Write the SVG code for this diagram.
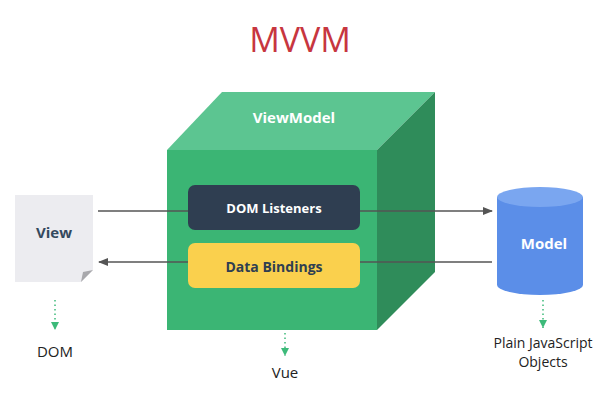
<svg xmlns="http://www.w3.org/2000/svg" width="600" height="400" viewBox="0 0 600 400">
<defs>
<style>
text{font-family:"Open Sans","Noto Sans",sans-serif;text-anchor:middle}
.lbl{fill:#222}
.b{font-weight:bold}
.ln{stroke:#555;stroke-width:1.5;fill:none}
.dot{stroke:#3dba7a;stroke-width:1.5;stroke-dasharray:1.5 3;fill:none}
</style>
<marker id="ah" markerWidth="10" markerHeight="10" refX="9" refY="5" orient="auto" markerUnits="userSpaceOnUse"><path d="M0,1 L10,5 L0,9 Z" fill="#555"/></marker>
<marker id="gh" markerWidth="8" markerHeight="8" refX="8" refY="4" orient="auto" markerUnits="userSpaceOnUse"><path d="M0,0 L8,4 L0,8 Z" fill="#3dba7a"/></marker>
</defs>
<rect width="600" height="400" fill="#fff"/>
<text x="300" y="52" font-size="34" fill="#c7363f" font-family="Lato,sans-serif">MVVM</text>
<g id="viewmodel">
<polygon points="167,150 222,92 435,92 377,150" fill="#5cc591"/>
<polygon points="377,150 435,92 435,272 377,330" fill="#2f8c5a"/>
<rect x="167" y="150" width="210" height="180" fill="#3bb574"/>
<text x="294" y="123" fill="#fff" class="b" font-size="15">ViewModel</text>
<text x="285" y="378" class="lbl" font-size="15">Vue</text>
</g>
<g id="dom-listeners">
<rect x="188" y="185" width="172" height="45" rx="7" fill="#2f3e51"/>
<text x="274" y="213" fill="#fff" class="b" font-size="13">DOM Listeners</text>
</g>
<g id="data-bindings">
<rect x="188" y="243" width="172" height="45" rx="7" fill="#fad04d"/>
<text x="274" y="272" fill="#2f3e51" class="b" font-size="14">Data Bindings</text>
</g>
<g id="view">
<polygon points="15,195 93,195 93,270 81,282 15,282" fill="#ececf0"/>
<polygon points="93,270 81,282 83,272" fill="#a8a8ac"/>
<text x="54" y="238" fill="#34495e" class="b" font-size="15">View</text>
<text x="55" y="357" class="lbl" font-size="15">DOM</text>
</g>
<g id="model">
<path d="M497,197 V285 A43,10 0 0 0 583,285 V197 Z" fill="#5b8ee8"/>
<ellipse cx="540" cy="197" rx="43" ry="10" fill="#7aa6f0"/>
<text x="544" y="249" fill="#fff" class="b" font-size="15">Model</text>
<text x="543" y="348" class="lbl" font-size="14">Plain JavaScript</text>
<text x="543" y="367" class="lbl" font-size="14">Objects</text>
</g>
<g id="connectors">
<line class="ln" x1="98" y1="211" x2="188" y2="211"/>
<line class="ln" x1="360" y1="211" x2="492" y2="211" marker-end="url(#ah)"/>
<line class="ln" x1="188" y1="262" x2="99" y2="262" marker-end="url(#ah)"/>
<line class="ln" x1="492" y1="262" x2="360" y2="262"/>
<line class="dot" x1="55" y1="300" x2="55" y2="330" marker-end="url(#gh)"/>
<line class="dot" x1="285" y1="333" x2="285" y2="356" marker-end="url(#gh)"/>
<line class="dot" x1="543" y1="300" x2="543" y2="328" marker-end="url(#gh)"/>
</g>
</svg>
